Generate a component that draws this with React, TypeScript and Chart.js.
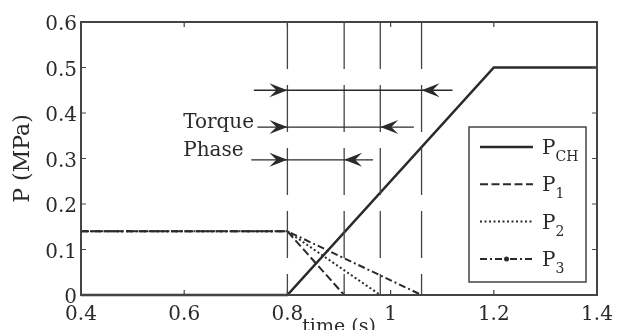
import React, { useEffect, useRef } from 'react';
import { Chart, registerables } from 'chart.js';
Chart.register(...registerables);

// ---- data ----
const TIME_CH = [0.4, 0.8, 1.2, 1.4];
const P_CH = [0, 0, 0.5, 0.5];
const TIME_P1 = [0.4, 0.8, 0.91, 1.4];
const P_1 = [0.14, 0.14, 0, 0];
const TIME_P2 = [0.4, 0.8, 0.98, 1.4];
const P_2 = [0.14, 0.14, 0, 0];
const TIME_P3 = [0.4, 0.8, 1.06, 1.4];
const P_3 = [0.14, 0.14, 0, 0];

const MARKER_TIMES = [0.8, 0.91, 0.98, 1.06];

const X_TICKS = [0.4, 0.6, 0.8, 1, 1.2, 1.4];
const Y_TICKS = [0, 0.1, 0.2, 0.3, 0.4, 0.5, 0.6];

const ARROW_Y = [0.45, 0.369, 0.297];
const ARROW_START = [0.8, 0.8, 0.8];
const ARROW_END = [1.06, 0.98, 0.91];
const ARROW_LEFT_TAIL = [0.735, 0.742, 0.73];
const ARROW_RIGHT_TAIL = [1.12, 1.045, 0.966];

const NOTE_LINES = ['Torque', 'Phase'];
const NOTE_X = 0.598;
const NOTE_Y = [0.378, 0.318];

const LEGEND_MAIN = ['P', 'P', 'P', 'P'];
const LEGEND_SUB = ['CH', '1', '2', '3'];

const FONT = "'DejaVu Serif', 'Liberation Serif', serif";
const INK = '#2a2a2a';

const toPts = (xs: number[], ys: number[]) => xs.map((x, i) => ({ x, y: ys[i] }));

function drawHead(ctx: CanvasRenderingContext2D, x: number, y: number, dir: number) {
  ctx.beginPath();
  ctx.moveTo(x, y);
  ctx.lineTo(x - dir * 18, y - 7);
  ctx.lineTo(x - dir * 11, y);
  ctx.lineTo(x - dir * 18, y + 7);
  ctx.closePath();
  ctx.fill();
}

const decorPlugin = {
  id: 'decor',
  afterDatasetsDraw(chart: any) {
    const { ctx, chartArea: ca, scales } = chart;
    const xs = scales.x;
    const ys = scales.y;
    ctx.save();
    // axes box
    ctx.strokeStyle = '#444';
    ctx.lineWidth = 2;
    ctx.strokeRect(ca.left, ca.top, ca.right - ca.left, ca.bottom - ca.top);
    // inner ticks
    ctx.lineWidth = 1.2;
    ctx.beginPath();
    X_TICKS.forEach((t) => {
      const px = xs.getPixelForValue(t);
      ctx.moveTo(px, ca.bottom);
      ctx.lineTo(px, ca.bottom - 5);
      ctx.moveTo(px, ca.top);
      ctx.lineTo(px, ca.top + 5);
    });
    Y_TICKS.forEach((t) => {
      const py = ys.getPixelForValue(t);
      ctx.moveTo(ca.left, py);
      ctx.lineTo(ca.left + 5, py);
      ctx.moveTo(ca.right, py);
      ctx.lineTo(ca.right - 5, py);
    });
    ctx.stroke();

    // dimension arrows
    ctx.strokeStyle = INK;
    ctx.fillStyle = INK;
    ctx.lineWidth = 1.4;
    ARROW_Y.forEach((yv, i) => {
      const py = ys.getPixelForValue(yv);
      const a = xs.getPixelForValue(ARROW_START[i]);
      const b = xs.getPixelForValue(ARROW_END[i]);
      const lt = xs.getPixelForValue(ARROW_LEFT_TAIL[i]);
      const rt = xs.getPixelForValue(ARROW_RIGHT_TAIL[i]);
      ctx.beginPath();
      ctx.moveTo(lt, py);
      ctx.lineTo(rt, py);
      ctx.stroke();
      drawHead(ctx, a, py, 1);
      drawHead(ctx, b, py, -1);
    });

    // annotation text
    ctx.fillStyle = INK;
    ctx.font = `20px ${FONT}`;
    ctx.textAlign = 'left';
    ctx.textBaseline = 'middle';
    NOTE_LINES.forEach((s, i) => {
      ctx.fillText(s, xs.getPixelForValue(NOTE_X), ys.getPixelForValue(NOTE_Y[i]));
    });

    // legend
    const lines = chart.data.datasets.filter((d: any) => d.inLegend);
    const bx = ca.right - 128;
    const by = ca.top + 105;
    const bw = 117;
    const bh = 155;
    ctx.fillStyle = '#fff';
    ctx.fillRect(bx, by, bw, bh);
    ctx.strokeStyle = '#444';
    ctx.lineWidth = 1.5;
    ctx.strokeRect(bx, by, bw, bh);
    lines.forEach((d: any, i: number) => {
      const cy = by + 20 + i * 37.3;
      ctx.strokeStyle = d.borderColor;
      ctx.lineWidth = d.borderWidth;
      ctx.setLineDash(d.borderDash || []);
      ctx.beginPath();
      ctx.moveTo(bx + 11, cy);
      ctx.lineTo(bx + 64, cy);
      ctx.stroke();
      ctx.setLineDash([]);
      if (d.legendMarker) {
        ctx.fillStyle = d.borderColor;
        ctx.beginPath();
        ctx.arc(bx + 37.5, cy, 2.5, 0, Math.PI * 2);
        ctx.fill();
      }
      ctx.fillStyle = INK;
      ctx.textBaseline = 'alphabetic';
      ctx.font = `20px ${FONT}`;
      ctx.fillText(LEGEND_MAIN[i], bx + 73, cy + 7);
      const w = ctx.measureText(LEGEND_MAIN[i]).width;
      ctx.font = `14px ${FONT}`;
      ctx.fillText(LEGEND_SUB[i], bx + 73 + w, cy + 14);
    });
    ctx.restore();
  },
};

export default function App() {
  const ref = useRef<HTMLCanvasElement>(null);
  useEffect(() => {
    document.body.style.margin = '0';
    const canvas = ref.current!;
    const guides = MARKER_TIMES.map((t) => ({
      data: [{ x: t, y: 0.6 }, { x: t, y: 0 }],
      borderColor: '#444',
      borderWidth: 1.3,
      borderDash: [47, 16],
      pointRadius: 0,
      clip: false,
    }));
    const chart = new Chart(canvas, {
      type: 'line',
      data: {
        datasets: [
          ...guides,
          { data: toPts(TIME_CH, P_CH), borderColor: INK, borderWidth: 2.6, pointRadius: 0, clip: 4, inLegend: true } as any,
          { data: toPts(TIME_P1, P_1), borderColor: INK, borderWidth: 2, borderDash: [8, 3.5], pointRadius: 0, clip: 4, inLegend: true } as any,
          { data: toPts(TIME_P2, P_2), borderColor: INK, borderWidth: 2, borderDash: [2, 2.5], pointRadius: 0, clip: 4, inLegend: true } as any,
          { data: toPts(TIME_P3, P_3), borderColor: INK, borderWidth: 2, borderDash: [7, 3, 2, 3], pointRadius: 0, clip: 4, inLegend: true, legendMarker: true } as any,
        ],
      },
      options: {
        responsive: false,
        animation: false,
        layout: { padding: { left: 0, top: 22, right: 20, bottom: 0 } },
        plugins: { legend: { display: false }, tooltip: { enabled: false } },
        elements: { line: { tension: 0 } },
        scales: {
          x: {
            type: 'linear',
            min: 0.4,
            max: 1.4,
            afterFit: (s: any) => { s.height = 35; },
            afterBuildTicks: (s: any) => { s.ticks = X_TICKS.map((v) => ({ value: v })); },
            grid: { display: false, drawTicks: false },
            border: { display: false },
            ticks: {
              autoSkip: false,
              maxRotation: 0,
              padding: 3,
              color: INK,
              font: { family: FONT, size: 20, lineHeight: 1.65 },
              callback: (v: any) => String(Number(Number(v).toFixed(1))),
            },
            title: {
              display: true,
              text: 'time (s)',
              color: INK,
              font: { family: FONT, size: 19, lineHeight: 1.2 },
              padding: { top: 0, bottom: -8 },
            },
          },
          y: {
            type: 'linear',
            min: 0,
            max: 0.6,
            afterFit: (s: any) => { s.width = 81; },
            afterBuildTicks: (s: any) => { s.ticks = Y_TICKS.map((v) => ({ value: v })); },
            grid: { display: false, drawTicks: false },
            border: { display: false },
            ticks: {
              autoSkip: false,
              padding: 4,
              labelOffset: 3,
              color: INK,
              font: { family: FONT, size: 20 },
              callback: (v: any) => String(Number(Number(v).toFixed(1))),
            },
            title: {
              display: true,
              text: 'P (MPa)',
              color: INK,
              font: { family: FONT, size: 22, lineHeight: 1.2 },
              padding: { top: 10, bottom: 0 },
            },
          },
        },
      },
      plugins: [decorPlugin],
    });
    return () => chart.destroy();
  }, []);
  return (
    <div style={{ position: 'absolute', left: 0, top: 0, width: 617, height: 330 }}>
      <canvas ref={ref} width={617} height={330} style={{ display: 'block', width: 617, height: 330 }} />
    </div>
  );
}
